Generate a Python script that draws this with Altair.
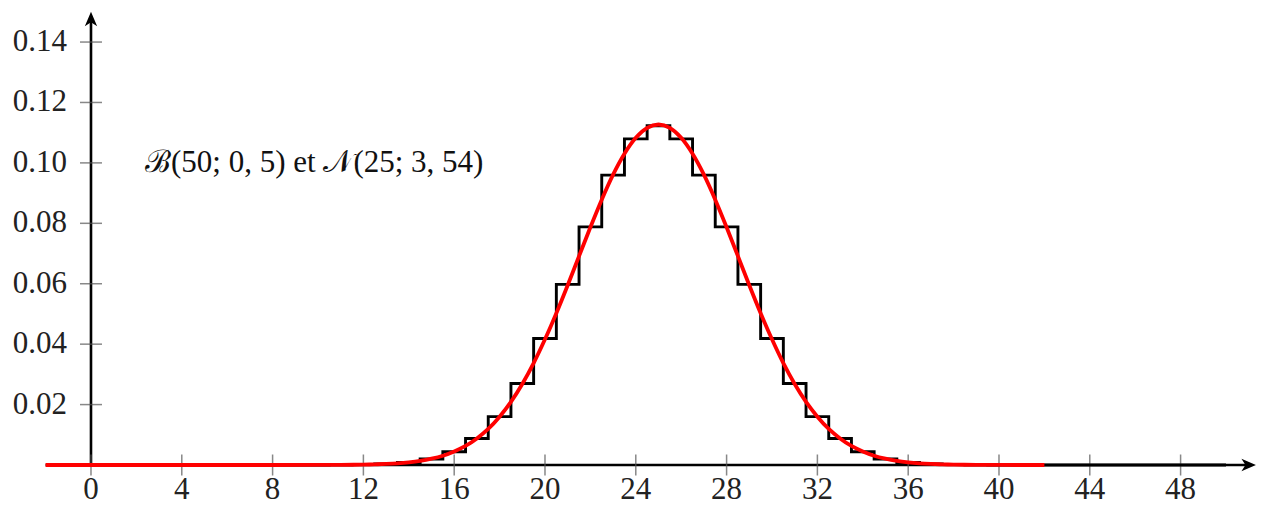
import altair as alt
import pandas as pd

# ---------------- data ----------------
k_values = list(range(0, 51))
binom_p = ([0.0] * 11 +
           [0.00003, 0.00011, 0.00032, 0.00083, 0.0020, 0.00437, 0.00875, 0.01603,
            0.02700, 0.04186, 0.05979, 0.07883, 0.09596, 0.10796, 0.11228,
            0.10796, 0.09596, 0.07883, 0.05979, 0.04186, 0.02700, 0.01603, 0.00875,
            0.00437, 0.0020, 0.00083, 0.00032, 0.00011, 0.00003] +
           [0.0] * 11)

normal_x = [-2, 0, 2, 4, 6, 8, 10, 11, 12,
            12.5, 13, 13.5, 14, 14.5, 15, 15.5, 16, 16.5, 17, 17.5, 18, 18.5,
            19, 19.5, 20, 20.5, 21, 21.5, 22, 22.5, 23, 23.5, 24, 24.5, 25,
            25.5, 26, 26.5, 27, 27.5, 28, 28.5, 29, 29.5, 30, 30.5, 31, 31.5,
            32, 32.5, 33, 33.5, 34, 34.5, 35, 35.5, 36, 36.5, 37, 37.5,
            38, 39, 40, 42]
normal_y = [0.0, 0.0, 0.0, 0.0, 0.0, 0.0, 0.000014, 0.000045, 0.00013,
            0.00022, 0.00036, 0.00057, 0.0009, 0.00138, 0.0021, 0.00308, 0.0045, 0.00631,
            0.0088, 0.01194, 0.0160, 0.02088,
            0.0268, 0.03371, 0.0416, 0.05024, 0.0595, 0.06913, 0.0787, 0.08783, 0.0961,
            0.10302, 0.1083, 0.11158, 0.1127,
            0.11158, 0.1083, 0.10302, 0.0961, 0.08783, 0.0787, 0.06913, 0.0595, 0.05024,
            0.0416, 0.03371, 0.0268, 0.02088,
            0.0160, 0.01194, 0.0088, 0.00631, 0.0045, 0.00308, 0.0021, 0.00138, 0.0009,
            0.00057, 0.00036, 0.00022,
            0.00013, 0.000045, 0.000014, 0.0]

x_ticks = [0, 4, 8, 12, 16, 20, 24, 28, 32, 36, 40, 44, 48]
x_tick_labels = [str(v) for v in x_ticks]
y_ticks = [0.02, 0.04, 0.06, 0.08, 0.10, 0.12, 0.14]
y_tick_labels = ["0.02", "0.04", "0.06", "0.08", "0.10", "0.12", "0.14"]

annotation = "\u212C(50; 0, 5) et \U0001D4A9(25; 3, 54)"

# --------------- frames ----------------
df_step = pd.DataFrame({"x": k_values, "y": binom_p})
df_norm = pd.DataFrame({"x": normal_x, "y": normal_y})
df_xt = pd.DataFrame({"x": x_ticks, "y": [0.0] * len(x_ticks), "label": x_tick_labels})
df_yt = pd.DataFrame({"x": [0.0] * len(y_ticks), "y": y_ticks, "label": y_tick_labels})

W, H = 1249, 498
xs = alt.Scale(domain=[-3.656, 51.366], nice=False, zero=False)
ys = alt.Scale(domain=[-0.01357, 0.15127], nice=False, zero=False)

FONT = "Liberation Serif"
FS = 31


def X(field="x:Q"):
    return alt.X(field, scale=xs, axis=None)


def Y(field="y:Q"):
    return alt.Y(field, scale=ys, axis=None)


base = alt.Chart(pd.DataFrame({"a": [0]}))

x_axis_line = base.mark_rule(color="black", strokeWidth=2.6).encode(
    x=X("x1:Q"), x2="x2:Q", y=Y("yy:Q")
).transform_calculate(x1="-2", x2="51.0", yy="0")

y_axis_line = base.mark_rule(color="black", strokeWidth=2.6).encode(
    x=X("xx:Q"), y=Y("y1:Q"), y2="y2:Q"
).transform_calculate(xx="0", y1="0", y2="0.1476")

x_arrow = base.mark_point(
    shape="M1,0 L-1,-0.85 L-0.45,0 L-1,0.85 Z", size=210, filled=True, color="black", opacity=1
).encode(x=X("xx:Q"), y=Y("yy:Q")).transform_calculate(xx="51.0", yy="0")

y_arrow = base.mark_point(
    shape="M0,-1 L-0.85,1 L0,0.45 L0.85,1 Z", size=210, filled=True, color="black", opacity=1
).encode(x=X("xx:Q"), y=Y("yy:Q")).transform_calculate(xx="0", yy="0.1476")

x_tick_marks = alt.Chart(df_xt).mark_tick(
    orient="vertical", size=21, thickness=1.5, color="#555"
).encode(x=X(), y=Y())

y_tick_marks = alt.Chart(df_yt).mark_tick(
    orient="horizontal", size=22, thickness=1.5, color="#555"
).encode(x=X(), y=Y())

x_tick_text = alt.Chart(df_xt).mark_text(
    font=FONT, fontSize=FS, color="#222", align="center", baseline="alphabetic", dy=34
).encode(x=X(), y=Y(), text="label:N")

y_tick_text = alt.Chart(df_yt).mark_text(
    font=FONT, fontSize=FS, color="#222", align="right", baseline="middle", dx=-24
).encode(x=X(), y=Y(), text="label:N")

step_line = alt.Chart(df_step).mark_line(
    interpolate="step", color="black", strokeWidth=2.9
).encode(x=X(), y=Y())

norm_line = alt.Chart(df_norm).mark_line(
    interpolate="monotone", color="#ff0000", strokeWidth=3.8
).encode(x=X(), y=Y())

note = base.mark_text(
    font=FONT, fontSize=FS, color="#111", align="left", baseline="middle"
).encode(x=X("xx:Q"), y=Y("yy:Q"), text=alt.value(annotation)
         ).transform_calculate(xx="2.38", yy="0.1")

chart = alt.layer(
    x_axis_line, y_axis_line, x_arrow, y_arrow, x_tick_marks, y_tick_marks,
    x_tick_text, y_tick_text, step_line, norm_line, note
).properties(
    width=W, height=H, padding=0, autosize=alt.AutoSizeParams(type="none")
).configure_view(stroke=None)

chart.save("out.html", embed_options={"renderer": "svg", "actions": False})
